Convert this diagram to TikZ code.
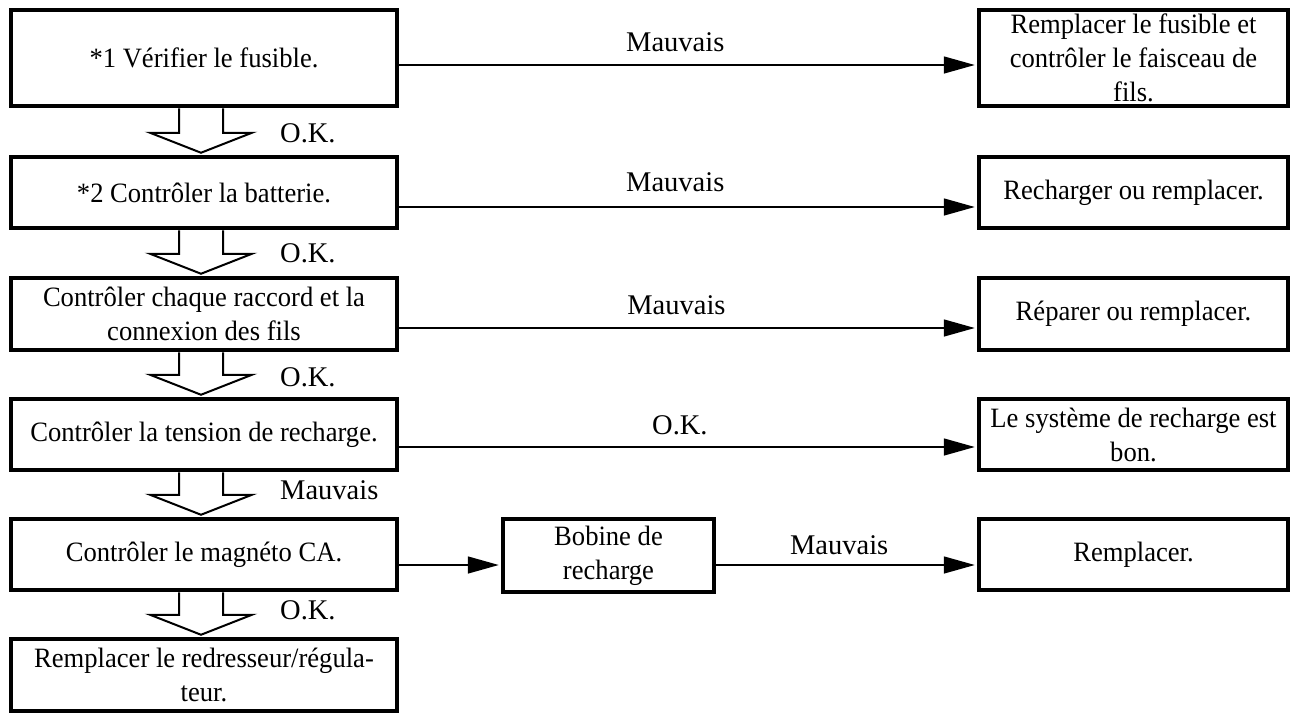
\documentclass[tikz,border=0pt]{standalone}
\usepackage{fontspec}
\setmainfont{Liberation Serif}
\newfontfamily\boxfont{Liberation Serif}[FakeStretch=0.95]
\usetikzlibrary{arrows.meta,calc}
\newcommand{\blockarr}[2]{\draw[blk] let \p1=(#1.south), \p2=(#2.north) in
  (\x1-25pt,\y1) -- (\x1-25pt,\y2+22pt) -- (\x1-54pt,\y2+22pt) -- (\x1-3pt,\y2+2pt)
  -- (\x1+48pt,\y2+22pt) -- (\x1+19pt,\y2+22pt) -- (\x1+19pt,\y1);}
\begin{document}
\begin{tikzpicture}[x=1pt,y=-1pt,
  box/.style={draw, line width=4.5pt, align=center, inner sep=0pt,
    font=\boxfont\fontsize{28}{34}\selectfont},
  lbl/.style={inner sep=0pt, font=\fontsize{28.5}{34}\selectfont},
  conn/.style={line width=1.5pt, -{Triangle[length=31pt,width=17pt]}, shorten >=2pt},
  blk/.style={line width=2pt, line join=miter}]
\useasboundingbox (0,0) rectangle (1291,715);
% left column
\node[box, minimum width=386pt, minimum height=96pt] (b1) at (204,58) {*1 Vérifier le fusible.};
\node[box, minimum width=386pt, minimum height=71pt] (b2) at (204,192.5) {*2 Contrôler la batterie.};
\node[box, minimum width=386pt, minimum height=72pt] (b3) at (204,314) {Contrôler chaque raccord et la\\connexion des fils};
\node[box, minimum width=386pt, minimum height=71pt] (b4) at (204,434.5) {Contrôler la tension de recharge.};
\node[box, minimum width=386pt, minimum height=71pt] (b5) at (204,554.5) {Contrôler le magnéto CA.};
\node[box, minimum width=386pt, minimum height=72pt] (b6) at (204,675) {Remplacer le redresseur/régula-\\teur.};
% right column
\node[box, minimum width=309pt, minimum height=96pt] (r1) at (1133.5,58) {Remplacer le fusible et\\contrôler le faisceau de\\fils.};
\node[box, minimum width=309pt, minimum height=71pt] (r2) at (1133.5,192.5) {Recharger ou remplacer.};
\node[box, minimum width=309pt, minimum height=72pt] (r3) at (1133.5,314) {Réparer ou remplacer.};
\node[box, minimum width=309pt, minimum height=71pt] (r4) at (1133.5,434.5) {Le système de recharge est\\bon.};
\node[box, minimum width=309pt, minimum height=71pt] (r5) at (1133.5,554.5) {Remplacer.};
\node[box, minimum width=211pt, minimum height=73pt] (bob) at (608.5,555.5) {Bobine de\\recharge};
% row levels
\coordinate (y1) at (0,65);
\coordinate (y2) at (0,207);
\coordinate (y3) at (0,328);
\coordinate (y4) at (0,447);
\coordinate (y5) at (0,565);
% horizontal connectors
\draw[conn] (b1.east |- y1) -- node[lbl, pos=0.478, yshift=23pt] {Mauvais} (r1.west |- y1);
\draw[conn] (b2.east |- y2) -- node[lbl, pos=0.478, yshift=25pt] {Mauvais} (r2.west |- y2);
\draw[conn] (b3.east |- y3) -- node[lbl, pos=0.48, yshift=23pt] {Mauvais} (r3.west |- y3);
\draw[conn] (b4.east |- y4) -- node[lbl, pos=0.486, yshift=22pt] {O.K.} (r4.west |- y4);
\draw[conn] (b5.east |- y5) -- (bob.west |- y5);
\draw[conn] (bob.east |- y5) -- node[lbl, pos=0.472, yshift=20pt] {Mauvais} (r5.west |- y5);
% block arrows
\blockarr{b1}{b2}
\blockarr{b2}{b3}
\blockarr{b3}{b4}
\blockarr{b4}{b5}
\blockarr{b5}{b6}
\node[lbl, anchor=west] (l1) at (280,133) {O.K.};
\node[lbl, anchor=west] (l2) at (280,253) {O.K.};
\node[lbl, anchor=west] (l3) at (280,377) {O.K.};
\node[lbl, anchor=west] (l4) at (280,490) {Mauvais};
\node[lbl, anchor=west] (l5) at (280,610) {O.K.};
\end{tikzpicture}
\end{document}
